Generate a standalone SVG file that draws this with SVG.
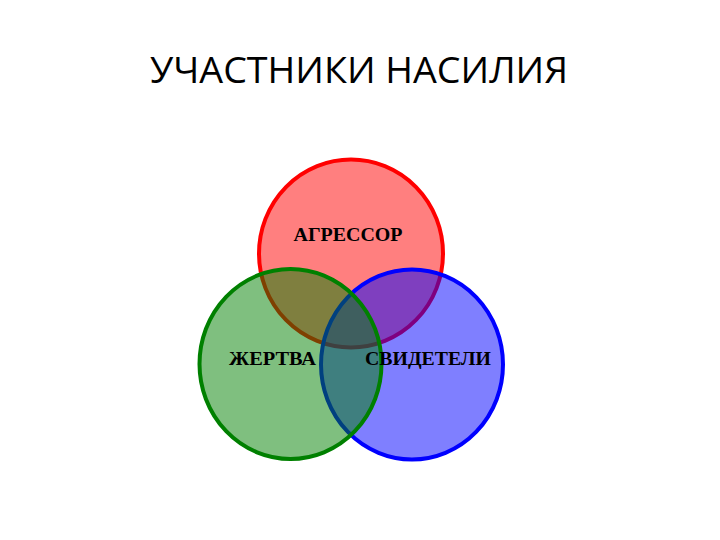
<svg xmlns="http://www.w3.org/2000/svg" width="720" height="540" viewBox="0 0 720 540">
<style>
.c{stroke-width:4}
.lbl{font-family:"Liberation Serif","Times New Roman",serif;font-weight:bold;font-size:18px;fill:#000}
.title{font-family:"Open Sans","Liberation Sans",sans-serif;font-size:36px;fill:#000}
</style>
<rect width="720" height="540" fill="#fff"/>
<text class="title" x="359" y="83" text-anchor="middle" textLength="418" lengthAdjust="spacingAndGlyphs">УЧАСТНИКИ НАСИЛИЯ</text>
<g id="aggressor">
<ellipse class="c" cx="351" cy="253.5" rx="92" ry="94" fill="rgba(255,0,0,0.5)" stroke="#ff0000"/>
</g>
<g id="witnesses">
<ellipse class="c" cx="412" cy="364.5" rx="91" ry="95" fill="rgba(0,0,255,0.5)" stroke="#0000ff"/>
</g>
<g id="victim">
<ellipse class="c" cx="290.5" cy="364" rx="91" ry="95" fill="rgba(0,128,0,0.5)" stroke="#008000"/>
</g>
<g id="labels">
<text class="lbl" x="348" y="241" text-anchor="middle" textLength="109" lengthAdjust="spacingAndGlyphs">АГРЕССОР</text>
<text class="lbl" x="272.5" y="365" text-anchor="middle" textLength="87" lengthAdjust="spacingAndGlyphs">ЖЕРТВА</text>
<text class="lbl" x="428" y="365" text-anchor="middle" textLength="126" lengthAdjust="spacingAndGlyphs">СВИДЕТЕЛИ</text>
</g>
</svg>
